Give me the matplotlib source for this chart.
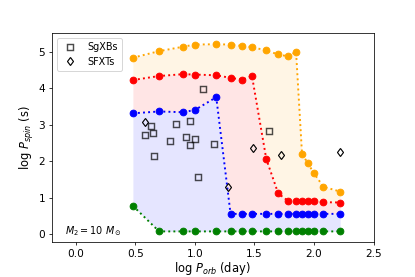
import numpy as np
import matplotlib.pyplot as plt

# orbital period grid (log day)
log_porb = [0.48, 0.70, 0.90, 1.00, 1.18, 1.30, 1.40, 1.48, 1.60, 1.70,
            1.78, 1.85, 1.90, 1.95, 2.00, 2.08, 2.22]

# boundaries of log P_spin (s)
green = [0.78, 0.08, 0.08, 0.08, 0.08, 0.08, 0.08, 0.08, 0.08, 0.08,
         0.08, 0.08, 0.08, 0.08, 0.08, 0.08, 0.08]
blue = [3.31, 3.36, 3.34, 3.40, 3.75, 0.56, 0.56, 0.56, 0.56, 0.56,
        0.56, 0.56, 0.56, 0.56, 0.56, 0.56, 0.56]
red = [4.22, 4.33, 4.38, 4.37, 4.35, 4.28, 4.23, 4.33, 2.06, 1.12,
       0.92, 0.90, 0.90, 0.90, 0.90, 0.88, 0.87]
orange = [4.83, 5.01, 5.13, 5.19, 5.20, 5.19, 5.15, 5.12, 5.03, 4.92,
          4.87, 4.99, 2.20, 1.94, 1.67, 1.30, 1.17]

# observed sources
sgxb_porb = [1.07, 0.63, 0.84, 0.96, 0.65, 0.58, 0.79, 0.93, 1.00, 0.96,
             0.66, 1.16, 1.03, 1.62]
sgxb_pspin = [3.97, 2.95, 3.03, 3.11, 2.78, 2.72, 2.56, 2.65, 2.61, 2.45,
              2.15, 2.47, 1.58, 2.83]
sfxt_porb = [0.58, 1.28, 1.49, 1.72, 2.22]
sfxt_pspin = [3.08, 1.30, 2.36, 2.17, 2.26]

plt.rcParams['font.size'] = 11

fig = plt.figure(figsize=(415 / 69.2, 277 / 69.2), dpi=69.2)
ax = fig.add_axes([0.125, 0.125, 0.775, 0.755])

ax.fill_between(log_porb, green, blue, color='blue', alpha=0.1, lw=0)
ax.fill_between(log_porb, blue, red, color='red', alpha=0.1, lw=0)
ax.fill_between(log_porb, red, orange, color='orange', alpha=0.1, lw=0)

for vals, c in [(green, 'green'), (blue, 'blue'), (red, 'red'), (orange, 'orange')]:
    ax.plot(log_porb, vals, ':', color=c, marker='o', markersize=7, lw=2)

ax.plot(sgxb_porb, sgxb_pspin, 's', mfc='none', mec='k', alpha=0.7,
        markersize=6.5, mew=1.5, label='SgXBs')
ax.plot(sfxt_porb, sfxt_pspin, 'd', mfc='none', mec='k',
        markersize=6.5, mew=1.2, label='SFXTs')

ax.text(-0.09, 0.0, r'$M_2 = 10\ M_\odot$', fontsize=10, va='baseline')

ax.set_xlim(-0.2, 2.5)
ax.set_ylim(-0.22, 5.5)
ax.set_xlabel(r'log $P_{orb}$ (day)', fontsize=12, labelpad=1)
ax.set_ylabel(r'log $P_{spin}$ (s)', fontsize=12, labelpad=2)
ax.legend(loc='upper left', fontsize=10)

fig.savefig('out.png', dpi=69.2)
